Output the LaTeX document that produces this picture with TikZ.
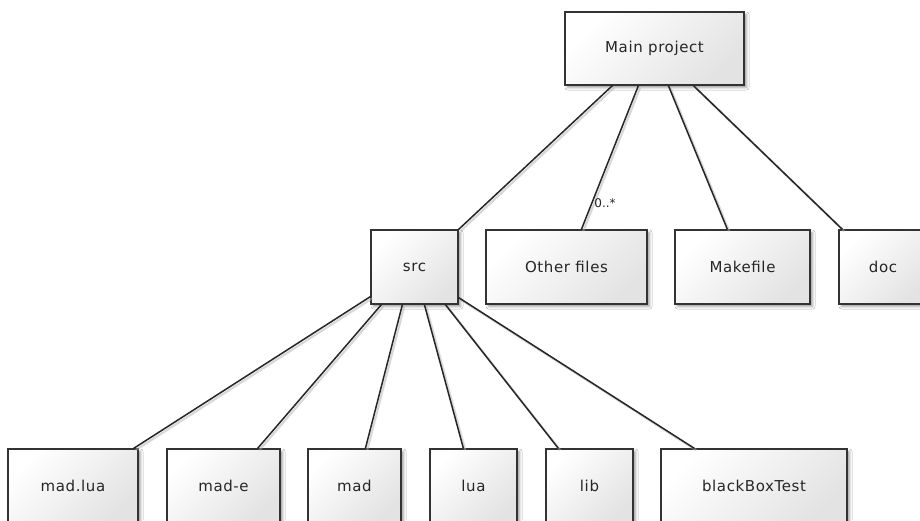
\documentclass[tikz,border=0pt]{standalone}
\usepackage{fontspec}
\setmainfont{DejaVu Sans}
\usetikzlibrary{shadows.blur}
\newcommand{\boxfont}{\fontsize{15}{17}\selectfont\addfontfeature{LetterSpace=4}}
\begin{document}
\begin{tikzpicture}[x=1pt, y=-1pt,
  box/.style={rectangle, draw=black!80, line width=1.2pt, inner sep=0pt,
    top color=white, bottom color=black!11, shading angle=45,
    text=black!85, font=\boxfont,
    blur shadow={shadow blur radius=2.5pt, shadow xshift=2.5pt, shadow yshift=-2.5pt}},
  link/.style={draw=black!85, line width=1.5pt,
    preaction={draw=black!30, line width=2.2pt, opacity=0.5,
      transform canvas={xshift=1.8pt, yshift=-1.8pt}}},
  mult/.style={font=\fontsize{12}{14}\selectfont, text=black!85, inner sep=0pt}
]
\clip (0,0) rectangle (920,520);
\fill[white] (0,0) rectangle (920,520);

% top level
\node[box, minimum width=179pt, minimum height=73pt] (main) at (654.5,48.5) {Main project};

% second level
\node[box, minimum width=87pt,  minimum height=74pt] (src)   at (414.5,267) {src};
\node[box, minimum width=161pt, minimum height=74pt] (other) at (566.5,267) {Other files};
\node[box, minimum width=135pt, minimum height=74pt] (make)  at (742.5,267) {Makefile};
\node[box, minimum width=88pt,  minimum height=74pt] (doc)   at (883,267)   {doc};

% contents of src
\node[box, minimum width=130pt, minimum height=73pt] (madlua) at (73,485.5)    {mad.lua};
\node[box, minimum width=113pt, minimum height=73pt] (made)   at (223.5,485.5) {mad-e};
\node[box, minimum width=93pt,  minimum height=73pt] (mad)    at (354.5,485.5) {mad};
\node[box, minimum width=87pt,  minimum height=73pt] (lua)    at (473.5,485.5) {lua};
\node[box, minimum width=87pt,  minimum height=73pt] (lib)    at (589.5,485.5) {lib};
\node[box, minimum width=186pt, minimum height=73pt] (bbt)    at (754,485.5)   {blackBoxTest};

% connectors from the project root
\draw[link] ([xshift=48pt]main.south west)  -- (src.north east);
\draw[link] ([xshift=74pt]main.south west)  -- ([xshift=96pt]other.north west)
  node[mult, pos=0.82, right=2pt] {0..*};
\draw[link] ([xshift=104pt]main.south west) -- ([xshift=53pt]make.north west);
\draw[link] ([xshift=129pt]main.south west) -- ([xshift=4pt]doc.north west);

% connectors from src
\draw[link] ([yshift=8pt]src.south west)  -- ([xshift=-5pt]madlua.north east);
\draw[link] ([xshift=11pt]src.south west) -- ([xshift=-23pt]made.north east);
\draw[link] ([xshift=32pt]src.south west) -- ([xshift=58pt]mad.north west);
\draw[link] ([xshift=54pt]src.south west) -- ([xshift=34pt]lua.north west);
\draw[link] ([xshift=75pt]src.south west) -- ([xshift=13pt]lib.north west);
\draw[link] ([yshift=7pt]src.south east)  -- ([xshift=34pt]bbt.north west);
\end{tikzpicture}
\end{document}
